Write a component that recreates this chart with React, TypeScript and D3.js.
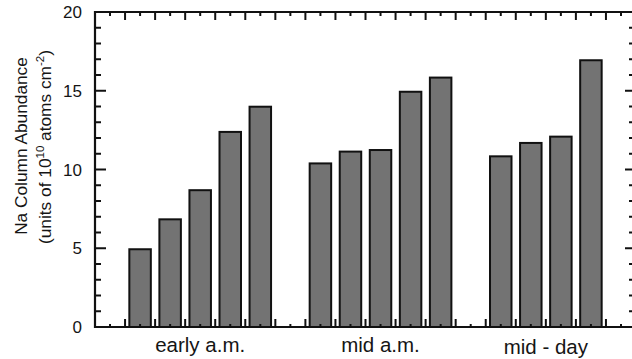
import React, { useEffect, useRef } from 'react';
import * as d3 from 'd3';

// values (units of 10^10 atoms cm^-2)
const groups = ['early a.m.', 'mid a.m.', 'mid - day'];
const earlyAM = [5.0, 6.9, 8.75, 12.45, 14.05];
const midAM = [10.45, 11.2, 11.3, 15.0, 15.9];
const midDay = [10.9, 11.75, 12.15, 17.0];
const yTicks = [0, 5, 10, 15, 20];

const W = 632;
const H = 359;
const FONT = '"Liberation Sans", Arial, sans-serif';
const INK = '#151515';

export default function App() {
  const ref = useRef<SVGSVGElement>(null);

  useEffect(() => {
    const svg = d3.select(ref.current);
    svg.selectAll('*').remove();

    const series = [earlyAM, midAM, midDay];
    // each bar sits on an integer slot, one empty slot between groups
    const bars = series.flatMap((vals, g) =>
      vals.map((v, i) => ({ slot: g * 6 + i, value: v }))
    );

    const x = d3.scaleLinear().domain([-1.5, 16.4]).range([95, 633]);
    const y = d3.scaleLinear().domain([0, 20]).range([327, 12]);
    const bw = 23.5;

    // bars
    svg.append('g')
      .selectAll('rect')
      .data(bars)
      .enter()
      .append('rect')
      .attr('x', d => x(d.slot) - bw / 2 + 1)
      .attr('y', d => y(d.value) + 1)
      .attr('width', bw - 2)
      .attr('height', d => y(0) - y(d.value) - 1)
      .attr('fill', '#737373')
      .attr('stroke', '#111')
      .attr('stroke-width', 2);

    const frame = svg.append('g').attr('stroke', '#111').attr('fill', 'none');
    frame.append('line').attr('x1', x(-1.5)).attr('x2', x(-1.5)).attr('y1', y(20) - 1).attr('y2', y(0) + 1).attr('stroke-width', 2.2);
    frame.append('line').attr('x1', x(-1.5)).attr('x2', W).attr('y1', y(20)).attr('y2', y(20)).attr('stroke-width', 2.2);
    frame.append('line').attr('x1', x(-1.5)).attr('x2', W).attr('y1', y(0)).attr('y2', y(0)).attr('stroke-width', 2.2);

    // x ticks: short at slots, long half way between
    const xt = d3.range(-1, 16.5, 0.5);
    const tg = svg.append('g').attr('stroke', '#111').attr('stroke-width', 2);
    xt.forEach(t => {
      const major = t % 1 !== 0;
      tg.append('line').attr('x1', x(t)).attr('x2', x(t))
        .attr('y1', y(0)).attr('y2', y(0) - (major ? 8 : 3));
      tg.append('line').attr('x1', x(t)).attr('x2', x(t))
        .attr('y1', y(20)).attr('y2', y(20) + (major ? 8 : 4));
    });

    // y ticks, left and right
    d3.range(1, 20).forEach(t => {
      const major = t % 5 === 0;
      tg.append('line').attr('x1', x(-1.5)).attr('x2', x(-1.5) + (major ? 11 : 6))
        .attr('y1', y(t)).attr('y2', y(t));
      tg.append('line').attr('x1', W).attr('x2', W - (major ? 7 : 3))
        .attr('y1', y(t)).attr('y2', y(t));
    });

    svg.append('g')
      .selectAll('text')
      .data(yTicks)
      .enter()
      .append('text')
      .attr('x', 82)
      .attr('y', d => y(d))
      .attr('dy', '0.36em')
      .attr('text-anchor', 'end')
      .attr('font-family', FONT)
      .attr('font-size', 17)
      .attr('fill', INK)
      .text(d => d);

    // group labels centred under each group
    const labelY = [352, 352, 354];
    svg.append('g')
      .selectAll('text')
      .data(groups)
      .enter()
      .append('text')
      .attr('x', (d, g) => x(g * 6 + (series[g].length - 1) / 2))
      .attr('y', (d, g) => labelY[g])
      .attr('text-anchor', 'middle')
      .attr('font-family', FONT)
      .attr('font-size', 20.5)
      .attr('fill', INK)
      .text(d => d);

    // y title, two lines
    svg.append('text')
      .attr('transform', 'translate(27,146) rotate(-90)')
      .attr('text-anchor', 'middle')
      .attr('font-family', FONT)
      .attr('font-size', 17.3)
      .attr('fill', INK)
      .text('Na Column Abundance');

    const t2 = svg.append('text')
      .attr('transform', 'translate(51,147) rotate(-90)')
      .attr('text-anchor', 'middle')
      .attr('font-family', FONT)
      .attr('font-size', 17.3)
      .attr('fill', INK);
    t2.append('tspan').text('(units of 10');
    t2.append('tspan').attr('font-size', 11.5).attr('dy', -7).text('10');
    t2.append('tspan').attr('dy', 7).text(' atoms cm');
    t2.append('tspan').attr('font-size', 11.5).attr('dy', -7).text('-2');
    t2.append('tspan').attr('dy', 7).text(')');
  }, []);

  return (
    <svg
      ref={ref}
      width={W}
      height={H}
      style={{ position: 'absolute', left: 0, top: 0, background: '#fff' }}
    />
  );
}
